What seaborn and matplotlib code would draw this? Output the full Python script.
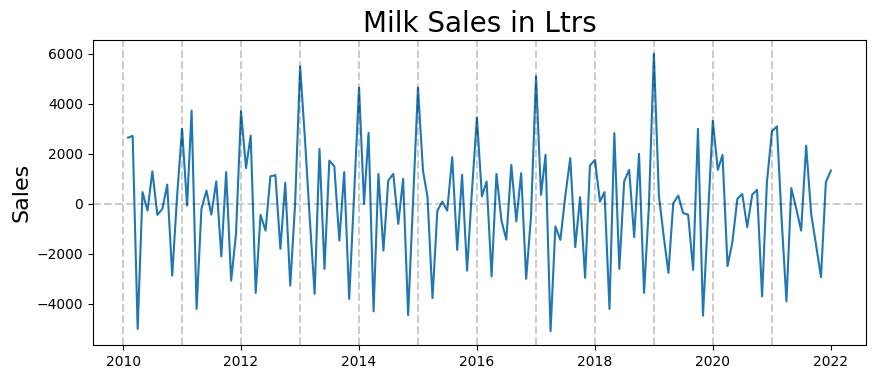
import pandas as pd
import numpy as np
import matplotlib
matplotlib.use("Agg")
import matplotlib.pyplot as plt
import seaborn as sns

# first-differenced monthly milk sales, Feb 2010 .. Jan 2022
sales_2010 = [2650, 2720, -5000, 470, -270, 1300, -440, -200, 770, -2870, 300]
sales_2011 = [3000, -70, 3730, -4200, -200, 530, -430, 900, -2100, 1270, -3070, -1200]
sales_2012 = [3700, 1430, 2730, -3560, -440, -1070, 1100, 1150, -1800, 840, -3270, 0]
sales_2013 = [5500, 2500, -500, -3600, 2200, -2600, 1730, 1500, -1470, 1270, -3800, 300]
sales_2014 = [4650, 0, 2840, -4300, 1200, -1870, 930, 1200, -800, 1000, -4450, 0]
sales_2015 = [4650, 1330, 270, -3770, -270, 90, -270, 1870, -1840, 1160, -2670, 500]
sales_2016 = [3450, 300, 900, -2900, 1200, -670, -1430, 1560, -700, 1230, -3000, -500]
sales_2017 = [5100, 360, 1960, -5090, -900, -1440, 300, 1830, -1730, 270, -2960, 1530]
sales_2018 = [1760, 90, 470, -4200, 2830, -2600, 900, 1360, -1330, 2000, -3560, -100]
sales_2019 = [6000, 330, -1200, -2760, 30, 330, -370, -430, -2640, 3000, -4470, -600]
sales_2020 = [3320, 1360, 1960, -2490, -1530, 200, 400, -930, 370, 560, -3700, 870]
sales_2021 = [2900, 3100, -500, -3900, 630, -200, -1070, 2330, -400, -1630, -2930, 870]
sales_2022 = [1330]

sales = (sales_2010 + sales_2011 + sales_2012 + sales_2013 + sales_2014 + sales_2015
         + sales_2016 + sales_2017 + sales_2018 + sales_2019 + sales_2020 + sales_2021
         + sales_2022)
months = pd.date_range("2010-02-01", periods=len(sales), freq="MS")
year_starts = range(2010, 2022)

df = pd.DataFrame({"Month": months, "Sales": sales})

fig, ax = plt.subplots(figsize=(8.76, 3.82), dpi=100)
fig.subplots_adjust(left=93/876, right=866/876, top=1 - 40/382, bottom=1 - 345/382)

sns.lineplot(x="Month", y="Sales", data=df, ax=ax, color="#1f77b4", linewidth=1.5)

for year in year_starts:
    ax.axvline(pd.Timestamp(year=year, month=1, day=1), color="k", linestyle="--", alpha=0.2)
ax.axhline(0, color="k", linestyle="--", alpha=0.2)

ax.set_title("Milk Sales in Ltrs", fontsize=20)
ax.set_ylabel("Sales", fontsize=16)
ax.set_xlabel("")

fig.savefig("out.png", dpi=100)
